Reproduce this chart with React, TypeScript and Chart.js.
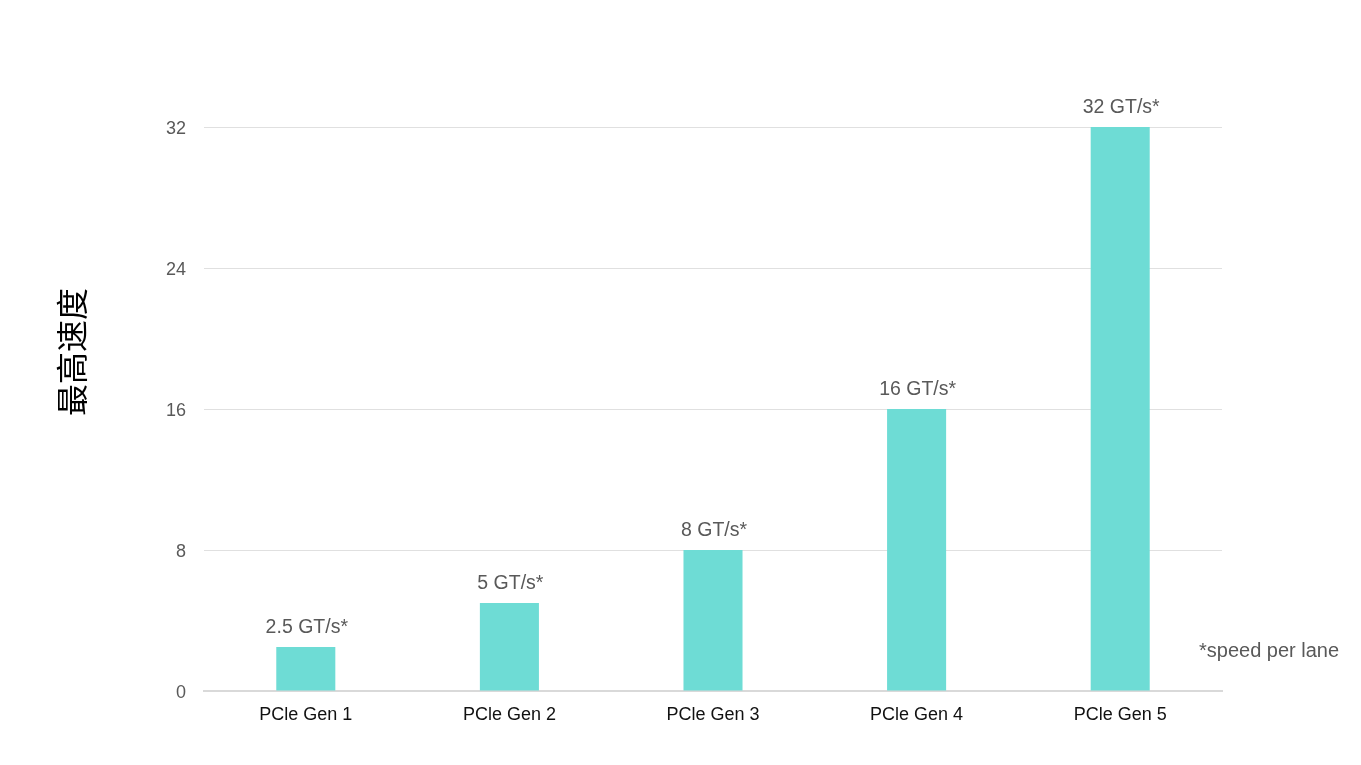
import React, { useEffect, useRef } from "react";
import { Chart, registerables } from "chart.js";

Chart.register(...registerables);

const categories = ["PCle Gen 1", "PCle Gen 2", "PCle Gen 3", "PCle Gen 4", "PCle Gen 5"];
const speeds = [2.5, 5, 8, 16, 32];
const barLabels = ["2.5 GT/s*", "5 GT/s*", "8 GT/s*", "16 GT/s*", "32 GT/s*"];
const yTicks = [0, 8, 16, 24, 32];
const yTitle = "最高速度";
const footnote = "*speed per lane";

const FONT = "'Liberation Sans', Arial, sans-serif";

const barLabelPlugin = {
  id: "barLabels",
  afterDatasetsDraw(chart: any) {
    const ctx = chart.ctx;
    const meta = chart.getDatasetMeta(0);
    ctx.save();
    ctx.font = `19.5px ${FONT}`;
    ctx.fillStyle = "#595959";
    ctx.textAlign = "center";
    ctx.textBaseline = "bottom";
    meta.data.forEach((el: any, i: number) => {
      ctx.fillText(barLabels[i], el.x + 1, el.y - 10);
    });
    // footnote
    ctx.font = `20px ${FONT}`;
    ctx.textAlign = "left";
    ctx.textBaseline = "middle";
    ctx.fillText(footnote, 1199, 651);
    // y title
    ctx.save();
    ctx.translate(72, 352);
    ctx.rotate(-Math.PI / 2);
    ctx.font = `32px 'Noto Sans CJK SC', sans-serif`;
    ctx.fillStyle = "#000";
    ctx.textAlign = "center";
    ctx.textBaseline = "middle";
    ctx.fillText(yTitle, 0, 0);
    ctx.restore();
    ctx.restore();
  },
};

export default function App() {
  const ref = useRef<HTMLCanvasElement>(null);
  useEffect(() => {
    if (!ref.current) return;
    const chart = new Chart(ref.current, {
      type: "bar",
      data: {
        labels: categories,
        datasets: [
          {
            data: speeds,
            backgroundColor: "#6EDCD5",
            barPercentage: 0.29,
            categoryPercentage: 1,
          },
        ],
      },
      options: {
        animation: false,
        responsive: false,
        maintainAspectRatio: false,
        layout: { padding: { left: 0, right: 139, top: 127, bottom: 0 } },
        plugins: { legend: { display: false }, tooltip: { enabled: false } },
        scales: {
          x: {
            grid: { display: false },
            border: { color: "#d9d9d9", width: 2 },
            ticks: { color: "#111", font: { size: 18, family: FONT }, padding: 5 },
            afterFit: (s: any) => {
              s.height = 74;
            },
          },
          y: {
            min: 0,
            max: 32,
            afterBuildTicks: (s: any) => {
              s.ticks = yTicks.map((v) => ({ value: v }));
            },
            grid: { color: "#e0e0e0", lineWidth: 1, drawTicks: false },
            border: { display: false },
            ticks: { color: "#595959", font: { size: 18, family: FONT }, padding: 18, labelOffset: 2 },
            afterFit: (s: any) => {
              s.width = 204;
            },
          },
        },
      },
      plugins: [barLabelPlugin],
    });
    return () => chart.destroy();
  }, []);
  return (
    <div style={{ position: "fixed", left: 0, top: 0, width: 1361, height: 765, background: "#fff" }}>
      <canvas ref={ref} width={1361} height={765} style={{ width: 1361, height: 765 }} />
    </div>
  );
}
